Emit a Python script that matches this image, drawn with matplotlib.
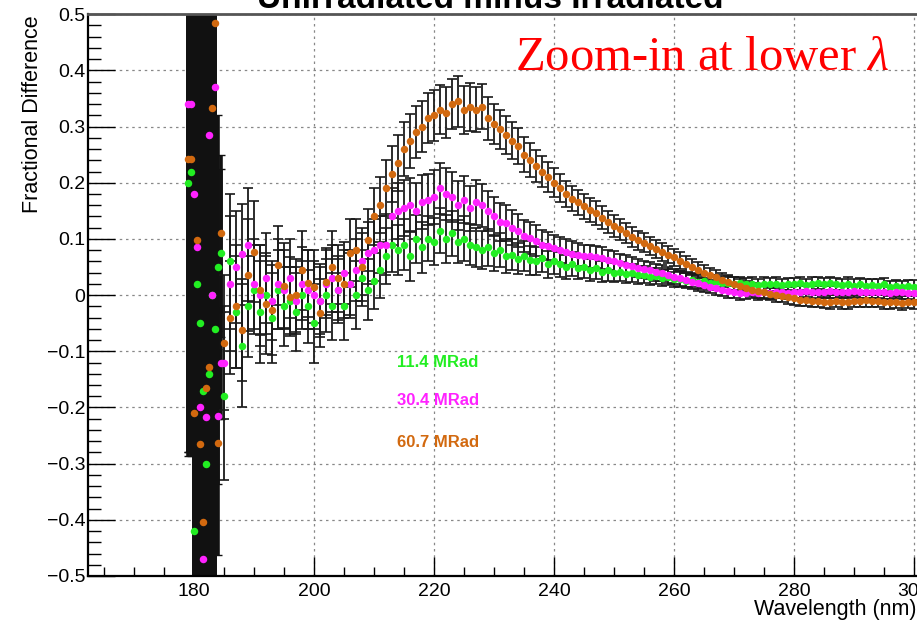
import numpy as np
import matplotlib
matplotlib.use("Agg")
import matplotlib.pyplot as plt
from matplotlib.ticker import MultipleLocator, FuncFormatter

plt.rcParams['font.family'] = ['Liberation Sans', 'DejaVu Sans']
plt.rcParams['mathtext.fontset'] = 'custom'
plt.rcParams['mathtext.rm'] = 'Liberation Serif'
plt.rcParams['mathtext.it'] = 'Liberation Serif:italic'

# wavelength grid (nm): finer sampling at the very low end
wl_low = [179, 179.5, 180, 180.5, 181, 181.5, 182, 182.5, 183, 183.5, 184, 184.5]
wl_main = list(range(185, 301))
wavelength = wl_low + wl_main

labels = ['11.4 MRad', '30.4 MRad', '60.7 MRad']
colors = ['#22ee22', '#ff22ff', '#d2690f']

# 11.4 MRad
green = [0.2, 0.22, -0.42, 0.02, -0.05, -0.17, -0.3, -0.14, 0.0, -0.06, 0.05, 0.075,
         -0.18, 0.06, -0.03, -0.09, -0.02, 0.01, -0.03, 0.0, -0.04, 0.01,
         -0.02, -0.01, -0.03, 0.0, -0.02, -0.05, -0.01, 0.0, -0.02, 0.01,
         -0.02, 0.02, 0.0, 0.03, 0.01, 0.025, 0.045, 0.07, 0.09, 0.08,
         0.09, 0.07, 0.1, 0.085, 0.1, 0.095, 0.115, 0.1, 0.11, 0.095,
         0.1, 0.09, 0.085, 0.08, 0.085, 0.075, 0.08, 0.07, 0.072, 0.065,
         0.07, 0.062, 0.06, 0.066, 0.055, 0.06, 0.055, 0.05, 0.055, 0.048,
         0.05, 0.045, 0.048, 0.042, 0.044, 0.04, 0.042, 0.038, 0.04, 0.035,
         0.036, 0.033, 0.034, 0.03, 0.032, 0.028, 0.029, 0.026, 0.027, 0.024,
         0.025, 0.022, 0.023, 0.021, 0.022, 0.02, 0.021, 0.019, 0.02, 0.018,
         0.02, 0.019, 0.02, 0.018, 0.02, 0.019, 0.021, 0.018, 0.02, 0.022,
         0.019, 0.021, 0.02, 0.018, 0.02, 0.017, 0.019, 0.016, 0.018, 0.017,
         0.019, 0.015, 0.016, 0.014, 0.016, 0.015]
green_err = [0.48, 0.5, 1.8, 1.5, 1.7, 1.6, 1.9, 1.5, 1.6, 1.4, 0.27, 0.15,
             0.15, 0.12, 0.1, 0.11, 0.09, 0.08, 0.09, 0.07, 0.08, 0.07,
             0.07, 0.06, 0.07, 0.06, 0.065, 0.07, 0.06, 0.065, 0.06, 0.055,
             0.06, 0.055, 0.06, 0.05, 0.055, 0.05, 0.05, 0.05, 0.048, 0.045,
             0.045, 0.045, 0.042, 0.045, 0.04, 0.042, 0.04, 0.042, 0.04, 0.038,
             0.04, 0.036, 0.035, 0.034, 0.033, 0.032, 0.03, 0.03, 0.028, 0.028,
             0.027, 0.026, 0.025, 0.025, 0.024, 0.023, 0.022, 0.022, 0.021, 0.02,
             0.02, 0.019, 0.019, 0.018, 0.018, 0.017, 0.017, 0.016, 0.016, 0.016,
             0.015, 0.015, 0.015, 0.014, 0.014, 0.014, 0.014, 0.013, 0.013, 0.013,
             0.013, 0.013, 0.012, 0.012, 0.012, 0.012, 0.012, 0.012, 0.012, 0.011,
             0.012, 0.011, 0.012, 0.011, 0.011, 0.012, 0.011, 0.011, 0.012, 0.011,
             0.011, 0.012, 0.011, 0.011, 0.012, 0.011, 0.011, 0.012, 0.011, 0.011,
             0.012, 0.011, 0.011, 0.012, 0.011, 0.012]

# 30.4 MRad
magenta = [0.34, 0.34, 0.18, 0.085, -0.2, -0.47, -0.217, 0.285, 0.0, 0.37, -0.216, -0.12,
           -0.12, 0.02, 0.05, 0.073, 0.09, 0.02, 0.0, 0.03, -0.01, 0.02,
           0.01, 0.03, -0.01, 0.02, 0.01, 0.0, -0.01, 0.02, 0.03, 0.01,
           0.04, 0.02, 0.045, 0.06, 0.075, 0.08, 0.09, 0.09, 0.14, 0.15,
           0.155, 0.16, 0.15, 0.165, 0.17, 0.175, 0.19, 0.18, 0.175, 0.16,
           0.17, 0.155, 0.165, 0.16, 0.15, 0.14, 0.13, 0.128, 0.12, 0.115,
           0.105, 0.102, 0.097, 0.09, 0.088, 0.083, 0.08, 0.077, 0.074, 0.072,
           0.07, 0.069, 0.068, 0.066, 0.063, 0.06, 0.057, 0.054, 0.051, 0.048,
           0.046, 0.044, 0.041, 0.039, 0.036, 0.033, 0.03, 0.027, 0.024, 0.021,
           0.018, 0.015, 0.012, 0.01, 0.007, 0.005, 0.004, 0.004, 0.005, 0.004,
           0.005, 0.004, 0.006, 0.005, 0.004, 0.006, 0.005, 0.007, 0.005, 0.006,
           0.005, 0.007, 0.006, 0.005, 0.006, 0.007, 0.005, 0.006, 0.005, 0.006,
           0.005, 0.004, 0.006, 0.005, 0.004, 0.003]
magenta_err = [0.62, 0.62, 1.6, 1.8, 1.5, 1.9, 1.6, 1.7, 1.5, 1.6, 0.12, 0.1,
               0.1, 0.12, 0.1, 0.09, 0.1, 0.08, 0.09, 0.08, 0.07, 0.08,
               0.07, 0.07, 0.06, 0.065, 0.07, 0.06, 0.065, 0.06, 0.06, 0.06,
               0.055, 0.06, 0.055, 0.06, 0.055, 0.055, 0.05, 0.055, 0.05, 0.05,
               0.05, 0.048, 0.05, 0.048, 0.046, 0.048, 0.045, 0.046, 0.044, 0.044,
               0.042, 0.04, 0.04, 0.038, 0.036, 0.035, 0.034, 0.032, 0.031, 0.03,
               0.029, 0.028, 0.027, 0.026, 0.025, 0.024, 0.023, 0.023, 0.022, 0.021,
               0.02, 0.02, 0.019, 0.019, 0.018, 0.018, 0.017, 0.017, 0.016, 0.016,
               0.015, 0.015, 0.015, 0.014, 0.014, 0.014, 0.013, 0.013, 0.013, 0.013,
               0.012, 0.012, 0.012, 0.012, 0.012, 0.011, 0.012, 0.011, 0.011, 0.012,
               0.011, 0.011, 0.012, 0.011, 0.011, 0.012, 0.011, 0.011, 0.012, 0.011,
               0.011, 0.012, 0.011, 0.011, 0.012, 0.011, 0.011, 0.012, 0.011, 0.011,
               0.012, 0.011, 0.011, 0.012, 0.011, 0.012]

# 60.7 MRad
orange = [0.243, 0.243, -0.21, 0.098, -0.265, -0.404, -0.166, -0.128, 0.334, 0.484, -0.263, 0.11,
          -0.085, -0.04, -0.02, -0.062, 0.036, 0.077, 0.009, -0.015, -0.027, 0.053,
          0.017, -0.003, 0.0, 0.044, 0.021, 0.015, -0.032, 0.024, 0.05, 0.03,
          0.02, 0.075, 0.08, 0.05, 0.098, 0.14, 0.16, 0.19, 0.215, 0.235,
          0.26, 0.275, 0.29, 0.3, 0.315, 0.32, 0.33, 0.325, 0.34, 0.345,
          0.33, 0.335, 0.33, 0.335, 0.315, 0.305, 0.295, 0.285, 0.275, 0.265,
          0.25, 0.24, 0.23, 0.22, 0.21, 0.2, 0.19, 0.18, 0.172, 0.165,
          0.158, 0.152, 0.146, 0.138, 0.13, 0.123, 0.117, 0.11, 0.104, 0.098,
          0.093, 0.087, 0.082, 0.077, 0.072, 0.067, 0.061, 0.055, 0.05, 0.045,
          0.04, 0.036, 0.032, 0.027, 0.023, 0.02, 0.016, 0.013, 0.01, 0.007,
          0.005, 0.002, 0.0, -0.002, -0.004, -0.006, -0.008, -0.009, -0.01, -0.011,
          -0.012, -0.012, -0.011, -0.013, -0.012, -0.011, -0.01, -0.009, -0.01, -0.011,
          -0.012, -0.013, -0.012, -0.014, -0.012, -0.013]
orange_err = [0.53, 0.53, 1.7, 1.5, 1.8, 1.6, 1.7, 1.5, 1.6, 1.4, 0.2, 0.14,
              0.12, 0.1, 0.11, 0.09, 0.1, 0.09, 0.08, 0.09, 0.08, 0.07,
              0.075, 0.07, 0.065, 0.07, 0.06, 0.065, 0.06, 0.06, 0.065, 0.06,
              0.06, 0.06, 0.055, 0.06, 0.055, 0.05, 0.05, 0.05, 0.05, 0.05,
              0.048, 0.048, 0.046, 0.046, 0.045, 0.045, 0.044, 0.045, 0.044, 0.045,
              0.043, 0.042, 0.04, 0.04, 0.038, 0.036, 0.035, 0.034, 0.033, 0.032,
              0.031, 0.03, 0.029, 0.028, 0.027, 0.026, 0.025, 0.024, 0.023, 0.023,
              0.022, 0.021, 0.021, 0.02, 0.02, 0.019, 0.019, 0.018, 0.018, 0.017,
              0.017, 0.016, 0.016, 0.016, 0.015, 0.015, 0.015, 0.014, 0.014, 0.014,
              0.014, 0.013, 0.013, 0.013, 0.013, 0.012, 0.012, 0.012, 0.012, 0.012,
              0.012, 0.011, 0.012, 0.011, 0.011, 0.012, 0.011, 0.011, 0.012, 0.011,
              0.011, 0.012, 0.011, 0.011, 0.012, 0.011, 0.011, 0.012, 0.011, 0.011,
              0.012, 0.011, 0.011, 0.012, 0.011, 0.012]

series = [(green, green_err), (magenta, magenta_err), (orange, orange_err)]
n_low = len(wl_low)

fig = plt.figure(figsize=(9.17, 6.2), dpi=100)
ax = fig.add_axes([0.096, 0.071, 0.904, 0.906])

x = np.array(wavelength, dtype=float)
for (vals, errs), col in zip(series, colors):
    y = np.array(vals)
    e = np.array(errs)
    # very noisy low-lambda points: thick bars
    ax.errorbar(x[:n_low], y[:n_low], yerr=e[:n_low], fmt='none', ecolor='#111111',
                elinewidth=2.6, capsize=3, capthick=1, zorder=2)
    ax.errorbar(x[n_low:], y[n_low:], yerr=e[n_low:], fmt='none', ecolor='#1a1a1a',
                elinewidth=1.3, capsize=3.5, capthick=1.2, zorder=2)
    ax.plot(x, y, 'o', color=col, ms=5.4, mew=0, zorder=3)

ax.set_xlim(162.33, 300.5)
ax.set_ylim(-0.5, 0.5)

ax.xaxis.set_major_locator(MultipleLocator(20))
ax.xaxis.set_minor_locator(MultipleLocator(5))
ax.yaxis.set_major_locator(MultipleLocator(0.1))
ax.yaxis.set_minor_locator(MultipleLocator(0.02))
ax.yaxis.set_major_formatter(FuncFormatter(lambda v, p: f"{v:.1f}".replace('-', '\u2212') if abs(v) > 1e-9 else "0"))

ax.tick_params(axis='x', which='major', direction='in', length=13.4, width=1, labelsize=14, pad=5)
ax.tick_params(axis='x', which='minor', direction='in', length=6.7, width=1)
ax.tick_params(axis='y', which='major', direction='in', length=19.5, width=1, labelsize=14, pad=2)
ax.tick_params(axis='y', which='minor', direction='in', length=9.7, width=1)

ax.grid(True, which='major', color='#888888', linestyle=(0, (2, 3)), linewidth=0.9, zorder=0)
ax.set_axisbelow(True)

for s in ['left', 'bottom']:
    ax.spines[s].set_linewidth(1.6)
    ax.spines[s].set_color('black')
ax.spines['top'].set_linewidth(2)
ax.spines['top'].set_color('#555555')
ax.spines['right'].set_visible(False)

for lab, col, yy in zip(labels, colors, [-0.12, -0.187, -0.263]):
    ax.text(213.8, yy, lab, color=col, fontsize=12, fontweight='bold', va='center', ha='left')

ax.text(0.967, 0.922, r"Zoom-in at lower $\mathit{\lambda}$", transform=ax.transAxes, color='red',
        fontsize=35, family='Liberation Serif', ha='right', va='center')

fig.text(490 / 917, 1 - 8 / 620, "Unirradiated minus Irradiated", fontsize=24, fontweight='bold',
         ha='center', va='baseline')
fig.text(33 / 917, 1 - 15 / 620, "Fractional Difference", rotation=90, fontsize=15.5,
         ha='center', va='top')
fig.text(0.999, 5 / 620, "Wavelength (nm)", fontsize=15.5, ha='right', va='baseline')

plt.savefig('out.png', dpi=100)
